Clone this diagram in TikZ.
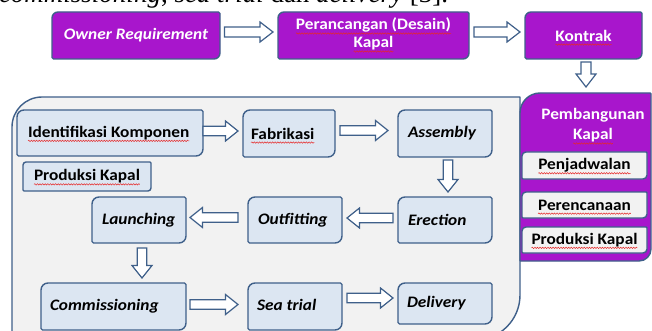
\documentclass[tikz,border=0pt]{standalone}
\usepackage{fontspec}
\setmainfont{Carlito}[FakeStretch=1.08]
\newfontfamily\timesf{Liberation Serif}
\usetikzlibrary{calc,decorations.pathmorphing}
\pgfdeclarelayer{back}
\pgfdeclarelayer{mid}
\pgfsetlayers{back,mid,main}
\definecolor{purp}{RGB}{168,22,204}
\definecolor{bord}{RGB}{63,96,138}
\definecolor{ifill}{RGB}{220,230,242}
\definecolor{cfill}{RGB}{242,242,242}
\definecolor{squigred}{RGB}{230,40,40}
% rounded shape around a node: tl, tr, br, bl radii
\newcommand\rshape[6]{\path[#1] ($(#2.north west)+(0,#3)$) arc[start angle=180,end angle=270,radius=#3] -- ($(#2.north east)+(-#4,0)$) arc[start angle=270,end angle=360,radius=#4] -- ($(#2.south east)+(0,-#5)$) arc[start angle=0,end angle=90,radius=#5] -- ($(#2.south west)+(#6,0)$) arc[start angle=90,end angle=180,radius=#6] -- cycle;}
\def\arwA{4.75pt}\def\arwB{10pt}\def\arwH{12.5pt}
\newcommand\harrow[2]{\path[barrow] let \p1=(#1), \p2=(#2), \n1={2*(\x2>\x1)-1} in (\x1,{\y1+\arwA}) -- ({\x2-(\n1)*\arwH},{\y1+\arwA}) -- ({\x2-(\n1)*\arwH},{\y1+\arwB}) -- (\x2,\y1) -- ({\x2-(\n1)*\arwH},{\y1-\arwB}) -- ({\x2-(\n1)*\arwH},{\y1-\arwA}) -- (\x1,{\y1-\arwA}) -- cycle;}
\newcommand\varrow[2]{\path[barrow] let \p1=(#1), \p2=(#2), \n1={2*(\y2>\y1)-1} in ({\x1+\arwA},\y1) -- ({\x1+\arwA},{\y2-(\n1)*\arwH}) -- ({\x1+\arwB},{\y2-(\n1)*\arwH}) -- (\x1,\y2) -- ({\x1-\arwB},{\y2-(\n1)*\arwH}) -- ({\x1-\arwA},{\y2-(\n1)*\arwH}) -- ({\x1-\arwA},\y1) -- cycle;}
% spell-check wavy underline under a text node
\newcommand\squig[1]{\draw[squigline] ($(#1.base west)+(0,3.5)$) -- ($(#1.base east)+(0,3.5)$);}
\tikzset{
  every node/.style={inner sep=0pt, outer sep=0pt},
  txt/.style={font=\fontsize{16}{18}\selectfont\bfseries},
  wtxt/.style={txt, text=white},
  lbl/.style={txt, anchor=west},
  purpshape/.style={fill=purp, draw=bord, line width=1.4pt},
  boxshape/.style={fill=ifill, draw=bord, line width=1.4pt},
  subshape/.style={fill=cfill, draw=bord, line width=1.4pt},
  contshape/.style={fill=cfill, draw=bord, line width=1.4pt},
  barrow/.style={fill=white, draw=bord, line width=1.2pt, line join=miter},
  squigline/.style={draw=squigred, line width=0.5pt, decorate, decoration={snake, amplitude=0.7pt, segment length=2.6pt}},
}
\begin{document}
\begin{tikzpicture}[x=1pt,y=-1pt]
\useasboundingbox (0,0) rectangle (652,331);
% cut-off line of text above the diagram
\node[anchor=base west, font=\timesf\fontsize{27}{30}\selectfont] (topline) at (-1,3) {\textit{commissioning}, \textit{sea trial} dan \textit{delivery} [3].};
% top row
\node[minimum width=168pt, minimum height=47pt] (owner) at (136,35.5) {};
\node[minimum width=191pt, minimum height=47pt] (desain) at (373.5,35.5) {};
\node[minimum width=117pt, minimum height=47pt] (kontrak) at (583.5,35.5) {};
\node[wtxt] (owner-t) at (owner) {\itshape Owner Requirement};
\node[wtxt, anchor=base] (desain-t1) at (373.5,30) {Perancangan (Desain)};
\node[wtxt, anchor=base] (desain-t2) at (373.5,48) {Kapal};
\node[wtxt] (kontrak-t) at (kontrak) {Kontrak};
% container and panel
\node[minimum width=508pt, minimum height=243pt] (cont) at (266,218.5) {};
\node[minimum width=131pt, minimum height=168pt] (panel) at (585.5,177) {};
\node[wtxt, anchor=base] (ptitle1) at (593,120) {Pembangunan};
\node[wtxt, anchor=base] (ptitle2) at (593,140) {Kapal};
\node[minimum width=125pt, minimum height=27pt] (jadwal) at (584.5,165.5) {};
\node[minimum width=125pt, minimum height=26pt] (rencana) at (584.5,205) {};
\node[minimum width=125pt, minimum height=26pt] (prodk) at (584.5,240) {};
\node[txt] (jadwal-t) at (jadwal) {Penjadwalan};
\node[txt] (rencana-t) at (rencana) {Perencanaan};
\node[txt] (prodk-t) at (prodk) {Produksi Kapal};
% inner boxes
\node[minimum width=186pt, minimum height=46pt] (id) at (110,133) {};
\node[minimum width=92pt, minimum height=47pt] (fab) at (289,133.5) {};
\node[minimum width=94pt, minimum height=47pt] (ass) at (445,133.5) {};
\node[minimum width=128pt, minimum height=29pt] (prodk2) at (87,176.5) {};
\node[minimum width=94pt, minimum height=46pt] (lau) at (139,220) {};
\node[minimum width=94pt, minimum height=46pt] (out) at (295,220) {};
\node[minimum width=94pt, minimum height=46pt] (ere) at (445,220) {};
\node[minimum width=145pt, minimum height=47pt] (com) at (113.5,306.5) {};
\node[minimum width=94pt, minimum height=47pt] (sea) at (295,306.5) {};
\node[minimum width=94pt, minimum height=41pt] (del) at (445,303.5) {};
% labels
\node[lbl] (id-t) at ($(id.west)+(11,0)$) {Identifikasi Komponen};
\node[lbl] (fab-t) at ($(fab.west)+(8,0)$) {Fabrikasi};
\node[lbl] (ass-t) at ($(ass.west)+(10,0)$) {\itshape Assembly};
\node[txt] (prodk2-t) at (prodk2) {Produksi Kapal};
\node[lbl] (lau-t) at ($(lau.west)+(10,0)$) {\itshape Launching};
\node[lbl] (out-t) at ($(out.west)+(10,0)$) {\itshape Outfitting};
\node[lbl] (ere-t) at ($(ere.west)+(10,0)$) {\itshape Erection};
\node[lbl] (com-t) at ($(com.west)+(9,0)$) {\itshape Commissioning};
\node[lbl] (sea-t) at ($(sea.west)+(9,-1.5)$) {\itshape Sea trial};
\node[lbl] (del-t) at ($(del.west)+(9,0)$) {\itshape Delivery};
% spell-check underlines
\foreach \t in {desain-t1,desain-t2,kontrak-t,ptitle2,jadwal-t,rencana-t,prodk-t,id-t,fab-t,prodk2-t}{\squig{\t}}
% shapes
\begin{pgfonlayer}{back}
  \fill[white] (0,0) rectangle (652,331);
  \rshape{contshape}{cont}{30}{0.5}{45}{0.5}
  \rshape{purpshape}{panel}{20}{1}{12}{0.5}
\end{pgfonlayer}
\begin{pgfonlayer}{mid}
  \rshape{purpshape}{owner}{6}{1.5}{6}{1.5}
  \rshape{purpshape}{desain}{6}{1.5}{6}{1.5}
  \rshape{purpshape}{kontrak}{6}{1.5}{6}{1.5}
  \rshape{subshape}{jadwal}{4}{1}{4}{1}
  \rshape{subshape}{rencana}{4}{1}{4}{1}
  \rshape{subshape}{prodk}{4}{1}{4}{1}
  \rshape{boxshape}{prodk2}{3}{1}{3}{1}
  \foreach \n in {id,fab,ass,lau,out,ere,com,sea,del}{\rshape{boxshape}{\n}{7}{1.5}{7}{1.5}}
\end{pgfonlayer}
% top arrows
\def\arwA{5pt}\def\arwB{10pt}\def\arwH{13pt}
\harrow{$(owner.east)+(4.5,-3.5)$}{$(desain.west)+(-5,0)$}
\harrow{$(desain.east)+(5,-3.5)$}{$(kontrak.west)+(-5,0)$}
\varrow{$(kontrak.south)+(2.5,3)$}{$(panel.north)+(0.5,-6)$}
% inner arrows
\def\arwA{4.75pt}\def\arwB{10pt}\def\arwH{12.5pt}
\harrow{$(id.east)+(0,-2)$}{$(fab.west)+(-5,0)$}
\harrow{$(fab.east)+(5,-3)$}{$(ass.west)+(-10,0)$}
\varrow{$(ass.south)+(3,3)$}{$(ere.north)+(0,-5)$}
\harrow{$(ere.west)+(-5,-2)$}{$(out.east)+(5,0)$}
\harrow{$(out.west)+(-10,-2.5)$}{$(lau.east)+(4,0)$}
\varrow{$(lau.south)+(3,5)$}{$(com.north)+(0,-5)$}
\harrow{$(com.east)+(4,-2)$}{$(sea.west)+(-10,0)$}
\harrow{$(sea.east)+(5,-8.5)$}{$(del.west)+(-5,0)$}
\end{tikzpicture}
\end{document}
